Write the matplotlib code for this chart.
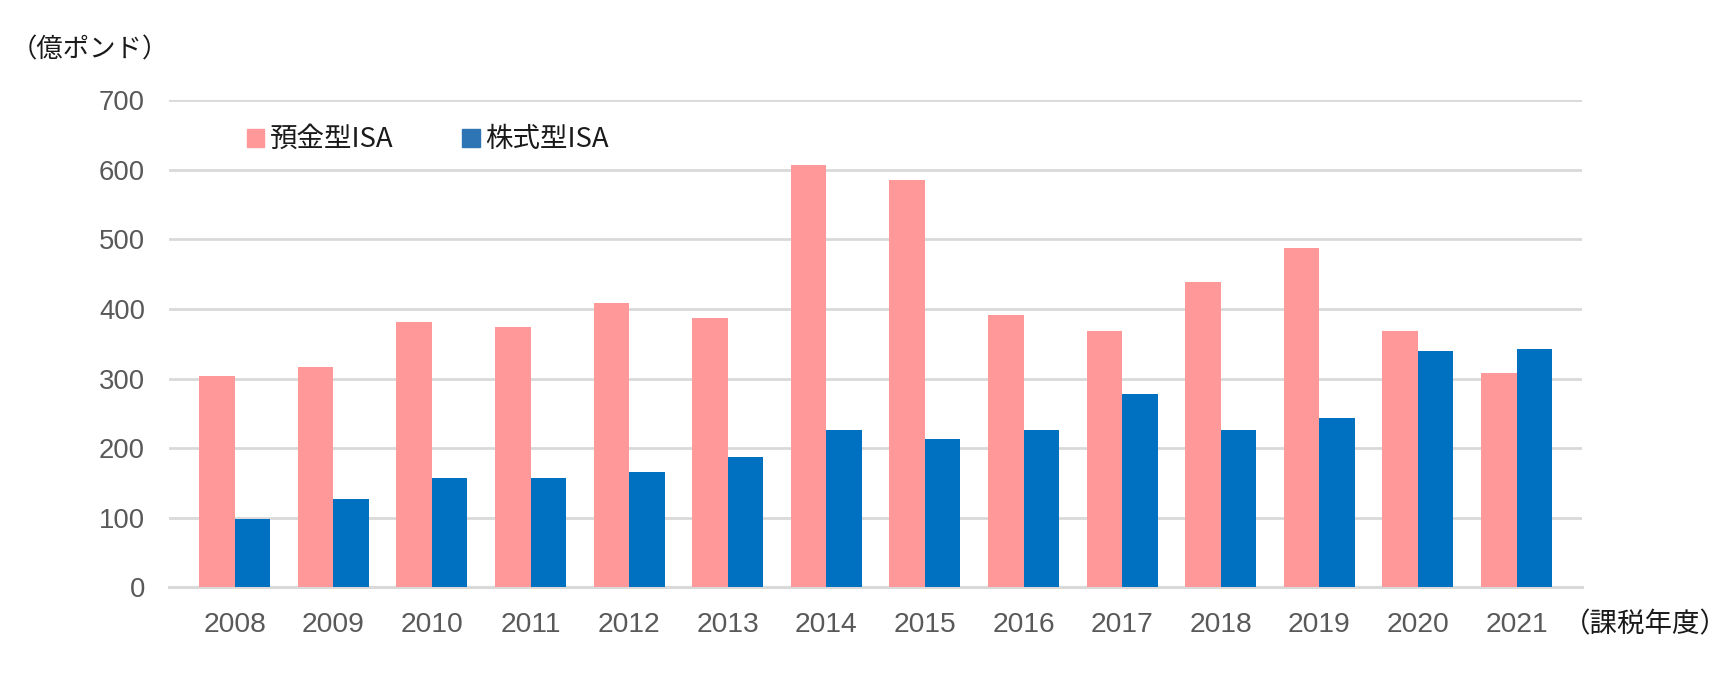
import numpy as np
import matplotlib
matplotlib.use("Agg")
import matplotlib.pyplot as plt
from matplotlib.patches import Patch

JP = ["Noto Sans CJK JP", "DejaVu Sans"]
NUM = ["Liberation Sans", "DejaVu Sans"]
PINK, BLUE = "#ff9999", "#0070c0"
GRID, TICK, INK = "#d9d9d9", "#595959", "#1a1a1a"

years = ["2008", "2009", "2010", "2011", "2012", "2013", "2014",
         "2015", "2016", "2017", "2018", "2019", "2020", "2021"]
deposit = [304, 317, 382, 374, 409, 387, 607, 586, 391, 369, 439, 487, 369, 308]
stocks = [98, 127, 157, 157, 166, 187, 226, 213, 226, 278, 226, 244, 340, 343]
yticks = [0, 100, 200, 300, 400, 500, 600, 700]

fig = plt.figure(figsize=(17.28, 6.92), dpi=100)
ax = fig.add_axes([0.0976, 0.1512, 0.8177, 0.7039])

x = np.arange(len(years))
w = 0.36
ax.bar(x - w / 2, deposit, width=w, color=PINK, zorder=3)
ax.bar(x + w / 2, stocks, width=w, color=BLUE, zorder=3)

ax.set_xlim(-0.67, 13.66)
ax.set_ylim(0, 700)
ax.set_yticks(yticks)
ax.set_yticklabels([str(v) for v in yticks], family=NUM, fontsize=19.8, color=TICK)
ax.set_xticks(x)
ax.set_xticklabels(years, family=NUM, fontsize=20.3, color=TICK)
ax.tick_params(axis="both", length=0)
ax.tick_params(axis="y", pad=17)
ax.tick_params(axis="x", pad=18)
for s in ("top", "right", "left"):
    ax.spines[s].set_visible(False)
ax.spines["bottom"].set_color(GRID)
ax.spines["bottom"].set_linewidth(2.2)
ax.grid(axis="y", color=GRID, lw=2.0, zorder=0)
ax.set_axisbelow(True)

fig.text(11 / 1728, 1 - 50 / 692, "（億ポンド）", family=JP, fontsize=19.0,
         color=INK, va="center", ha="left")
fig.text(1.0, 1 - 625 / 692, "（課税年度）", family=JP, fontsize=19.8,
         color=INK, va="center", ha="right")

handles = [Patch(color=PINK, label="預金型ISA"), Patch(color="#2e75b6", label="株式型ISA")]
ax.legend(handles=handles, loc="center left", bbox_to_anchor=(0.038, 0.919),
          frameon=False, ncol=2, prop={"family": JP, "size": 19.8},
          handlelength=0.63, handleheight=0.63, handletextpad=0.2,
          columnspacing=2.5, labelcolor=INK)

fig.savefig("out.png", dpi=100)
